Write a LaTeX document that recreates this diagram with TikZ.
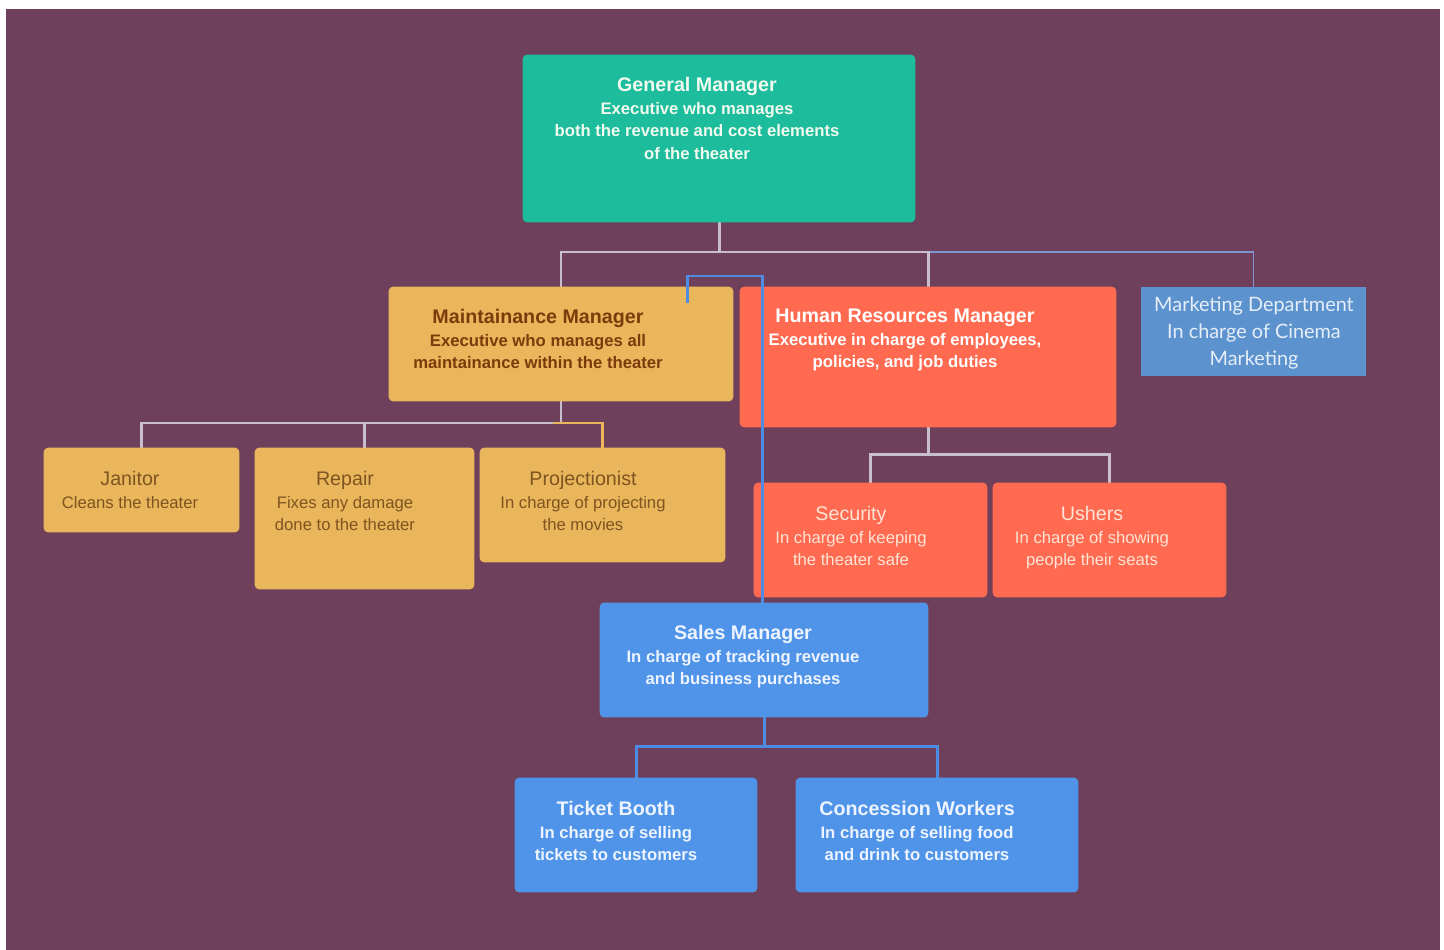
\documentclass[tikz,border=0pt]{standalone}
\usepackage{fontspec}
\setmainfont{Liberation Sans}
\newfontfamily\latofont{Lato}
\usepackage{tikz}
\definecolor{bgplum}{RGB}{110,64,92}
\definecolor{gmgreen}{RGB}{28,188,156}
\definecolor{maintgold}{RGB}{233,182,92}
\definecolor{hrcoral}{RGB}{255,106,80}
\definecolor{salesblue}{RGB}{79,148,232}
\definecolor{mktblue}{RGB}{92,146,206}
\definecolor{linkgray}{RGB}{200,190,204}
\definecolor{linkblue}{RGB}{77,140,225}
\definecolor{mktline}{RGB}{128,150,210}
\definecolor{gmink}{RGB}{240,250,238}
\definecolor{maintink}{RGB}{123,59,11}
\definecolor{goldink}{RGB}{126,84,32}
\definecolor{coralink}{RGB}{255,228,214}
\definecolor{blueink}{RGB}{238,244,255}
\definecolor{mktink}{RGB}{230,238,248}
\tikzstyle{card} = [rectangle, rounded corners=2.5pt, inner sep=0pt]
\tikzstyle{gmcard} = [card, fill=gmgreen]
\tikzstyle{maintcard} = [card, fill=maintgold]
\tikzstyle{hrcard} = [card, fill=hrcoral]
\tikzstyle{salescard} = [card, fill=salesblue]
\tikzstyle{mktcard} = [card, fill=mktblue, rounded corners=0pt]
\tikzstyle{cardtext} = [inner sep=0pt, anchor=north, align=center, font=\fontsize{9.5}{12.8}\selectfont]
\tikzstyle{boldtext} = [cardtext, font=\bfseries\fontsize{9.5}{12.8}\selectfont]
\tikzstyle{link} = [draw=linkgray, line width=1.7pt]
\tikzstyle{hooklink} = [draw=maintgold, line width=1.7pt]
\tikzstyle{salelink} = [draw=linkblue, line width=1.7pt]
\tikzstyle{mktlink} = [draw=mktline, line width=0.8pt]
\newcommand{\cardtitle}[1]{{\fontsize{11.2}{12.8}\selectfont #1}}

\begin{document}
\begin{tikzpicture}[x=0.02cm,y=-0.02cm]
  \useasboundingbox (0,0) rectangle (1444,950);
  \fill[white] (0,0) rectangle (1444,950);
  \fill[bgplum] (6,9) rectangle (1440,950);

  % boxes
  \node[gmcard,minimum width=7.84cm,minimum height=3.34cm](gm) at (719,138.5){};
  \node[maintcard,minimum width=6.88cm,minimum height=2.28cm](maint) at (561,344){};
  \node[hrcard,minimum width=7.52cm,minimum height=2.8cm](hr) at (928,357){};
  \node[mktcard,minimum width=4.5cm,minimum height=1.78cm](mkt) at (1253.5,331.5){};
  \node[maintcard,minimum width=3.9cm,minimum height=1.68cm](janitor) at (141.5,490){};
  \node[maintcard,minimum width=4.38cm,minimum height=2.82cm](repair) at (364.5,518.5){};
  \node[maintcard,minimum width=4.9cm,minimum height=2.28cm](proj) at (602.5,505){};
  \node[hrcard,minimum width=4.66cm,minimum height=2.28cm](security) at (870.5,540){};
  \node[hrcard,minimum width=4.66cm,minimum height=2.28cm](ushers) at (1109.5,540){};
  \node[salescard,minimum width=6.56cm,minimum height=2.28cm](sales) at (764,660){};
  \node[salescard,minimum width=4.84cm,minimum height=2.28cm](ticket) at (636,835){};
  \node[salescard,minimum width=5.64cm,minimum height=2.28cm](conc) at (937,835){};

  % connectors
  \coordinate (gmbar) at (719,252);
  \coordinate (maintbar) at (565,423);
  \coordinate (salestop) at (687,303);
  \draw[mktlink] (930,252) -| (mkt.north);
  \draw[link] (gm.south) -- (gmbar) -| (maint.north);
  \draw[link] (gmbar) -| (hr.north);
  \draw[link] (maint.south) -- (maint.south |- maintbar) -| (janitor.north);
  \draw[link] (maint.south |- maintbar) -| (repair.north);
  \draw[hooklink] (maint.south |- maintbar) ++(-8,0) -| (proj.north);
  \draw[link] (hr.south) -- ++(0,27) -| (security.north);
  \draw[link] (hr.south) -- ++(0,27) -| (ushers.north);
  \draw[salelink] (sales.south) -- ++(0,29) -| (ticket.north);
  \draw[salelink] (sales.south) -- ++(0,29) -| (conc.north);

  % boxes again over the line ends
  \foreach \n/\s in {gm/gmcard,maint/maintcard,hr/hrcard,mkt/mktcard,janitor/maintcard,repair/maintcard,proj/maintcard,security/hrcard,ushers/hrcard,sales/salescard,ticket/salescard,conc/salescard}
    \fill[\s] (\n.south west) rectangle (\n.north east);

  \draw[salelink] (sales.north) ++(-2,0) -- (762,276) -| (salestop);

  % texts
  \node[boldtext,text=gmink](gmtext) at (697,77){\cardtitle{General Manager}\\Executive who manages\\both the revenue and cost elements\\of the theater};
  \node[boldtext,text=maintink](mainttext) at (538,309){\cardtitle{Maintainance Manager}\\Executive who manages all\\maintainance within the theater};
  \node[boldtext,text=white](hrtext) at (905,309){\cardtitle{Human Resources Manager}\\Executive in charge of employees,\\policies, and job duties};
  \node[cardtext,text=mktink,font=\latofont\fontsize{11.3}{15.1}\selectfont](mkttext) at (1254,297){Marketing Department\\In charge of Cinema\\Marketing};
  \node[cardtext,text=goldink](janitortext) at (130,471){\cardtitle{Janitor}\\Cleans the theater};
  \node[cardtext,text=goldink](repairtext) at (345,471){\cardtitle{Repair}\\Fixes any damage\\done to the theater};
  \node[cardtext,text=goldink](projtext) at (583,471){\cardtitle{Projectionist}\\In charge of projecting\\the movies};
  \node[cardtext,text=coralink](sectext) at (851,506){\cardtitle{Security}\\In charge of keeping\\the theater safe};
  \node[cardtext,text=coralink](ushtext) at (1092,506){\cardtitle{Ushers}\\In charge of showing\\people their seats};
  \node[boldtext,text=blueink](salestext) at (743,625){\cardtitle{Sales Manager}\\In charge of tracking revenue\\and business purchases};
  \node[boldtext,text=blueink](tickettext) at (616,801){\cardtitle{Ticket Booth}\\In charge of selling\\tickets to customers};
  \node[boldtext,text=blueink](conctext) at (917,801){\cardtitle{Concession Workers}\\In charge of selling food\\and drink to customers};
\end{tikzpicture}
\end{document}
